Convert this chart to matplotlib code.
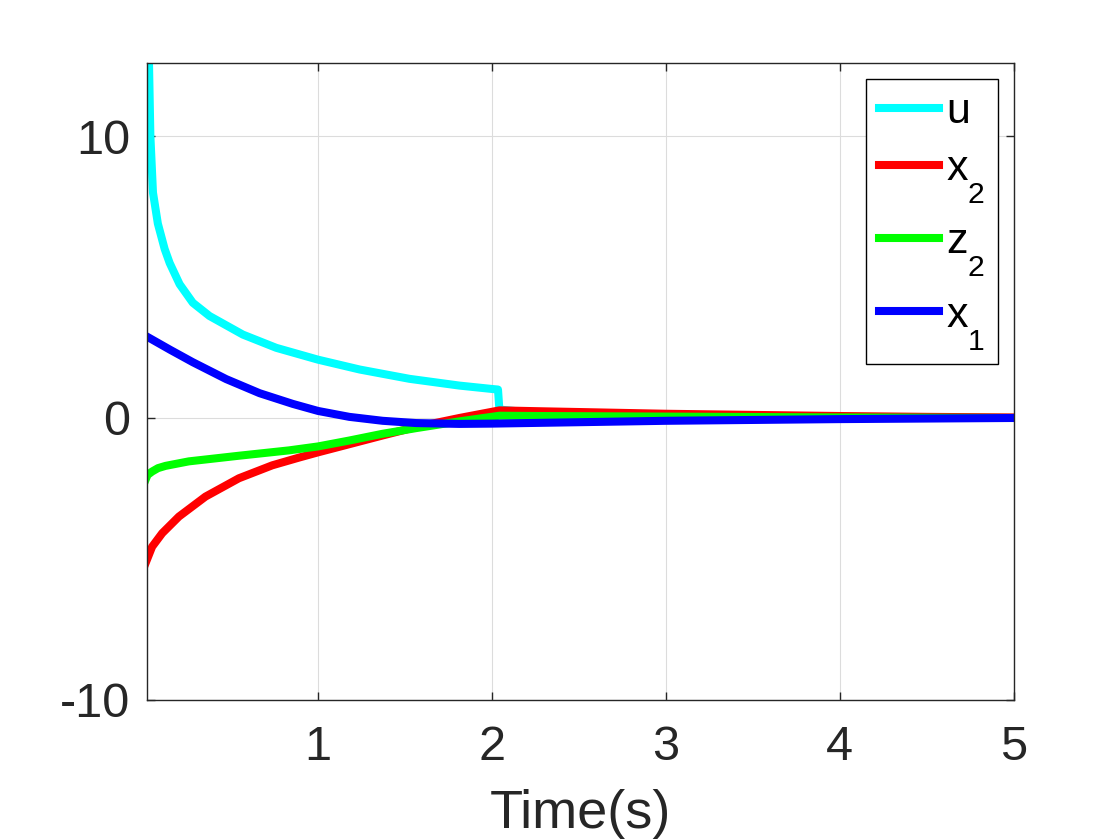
"""Closed-loop response: control input u and states x1, x2, z2 over 5 s."""
import matplotlib
matplotlib.use("Agg")
import matplotlib.pyplot as plt
from matplotlib import _mathtext

# values
t_u = [0.015, 0.022, 0.028, 0.036, 0.051, 0.079, 0.118, 0.147, 0.204, 0.28,
       0.376, 0.568, 0.76, 1.0, 1.24, 1.526, 1.813, 2.0, 2.035, 2.043,
       2.3, 2.8, 3.5, 4.2, 5.0]
u = [18.0, 14.5, 12.63, 10.02, 8.0, 6.9, 6.0, 5.5, 4.75, 4.09,
     3.62, 2.96, 2.49, 2.07, 1.72, 1.39, 1.15, 1.03, 1.01, 0.3,
     0.15, 0.07, 0.03, 0.01, 0.0]

t_x2 = [0.008, 0.046, 0.104, 0.2, 0.353, 0.545, 0.737, 0.894, 1.0, 1.18,
        1.372, 1.564, 1.813, 2.043, 2.27, 3.0, 3.5, 4.0, 4.5, 5.0]
x2 = [-5.16, -4.57, -4.09, -3.5, -2.79, -2.14, -1.68, -1.40, -1.22, -0.93,
      -0.62, -0.32, 0.0, 0.27, 0.24, 0.15, 0.11, 0.07, 0.04, 0.02]

t_z2 = [0.008, 0.02, 0.046, 0.08, 0.123, 0.257, 0.545, 0.833, 1.0, 1.18,
        1.372, 1.564, 1.813, 2.043, 2.27, 3.0, 4.0, 5.0]
z2 = [-2.2, -2.02, -1.9, -1.78, -1.7, -1.54, -1.34, -1.15, -1.01, -0.80,
      -0.56, -0.36, -0.12, 0.08, 0.07, 0.05, 0.02, 0.0]

t_x1 = [0.013, 0.15, 0.28, 0.472, 0.664, 0.855, 1.0, 1.18, 1.372, 1.564,
        1.813, 2.0, 2.3, 3.0, 3.5, 4.0, 5.0]
x1 = [2.9, 2.42, 1.98, 1.38, 0.88, 0.5, 0.25, 0.04, -0.1, -0.18,
      -0.21, -0.2, -0.17, -0.1, -0.07, -0.04, 0.0]

x_ticks = [1, 2, 3, 4, 5]
y_ticks = [-10, 0, 10]

TXT = "#262626"

plt.rcParams["font.family"] = ["Liberation Sans", "DejaVu Sans"]
plt.rcParams["mathtext.fontset"] = "custom"
plt.rcParams["mathtext.rm"] = "Liberation Sans"
plt.rcParams["mathtext.it"] = "Liberation Sans"
plt.rcParams["mathtext.default"] = "regular"
plt.rcParams["axes.unicode_minus"] = False


# MATLAB's tex subscripts sit lower than matplotlib's default
class _LowSub(_mathtext.FontConstantsBase):
    sub1 = 1.0


try:
    _mathtext._font_constant_mapping["Liberation Sans"] = _LowSub
except AttributeError:
    pass


def main() -> None:
    fig = plt.figure(figsize=(11.2, 8.4), dpi=100)
    ax = fig.add_axes([0.131, 0.167, 0.774, 0.758])

    lw = 5.8
    ax.plot(t_u, u, color="#00ffff", lw=lw, label="u")
    ax.plot(t_x2, x2, color="#ff0000", lw=lw, label=r"x$_2$")
    ax.plot(t_z2, z2, color="#00ff00", lw=lw, label=r"z$_2$")
    ax.plot(t_x1, x1, color="#0000ff", lw=lw, label=r"x$_1$")

    ax.set_xlim(0.015, 5)
    ax.set_ylim(-10, 12.6)
    ax.set_xticks(x_ticks)
    ax.set_yticks(y_ticks)
    ax.grid(True, color="#dcdcdc", lw=0.8)
    ax.set_axisbelow(True)

    for s in ax.spines.values():
        s.set_color(TXT)
        s.set_linewidth(1.0)
    ax.tick_params(direction="in", length=6, width=1.0, color=TXT,
                   top=True, right=True, labelsize=35, labelcolor=TXT)
    ax.tick_params(axis="x", pad=18)
    ax.tick_params(axis="y", pad=12)

    ax.set_xlabel("Time(s)", fontsize=39, color=TXT, labelpad=14)

    leg = ax.legend(loc="upper right", bbox_to_anchor=(0.982, 0.975),
                    fontsize=31, frameon=True, fancybox=False, framealpha=1,
                    edgecolor="#000000", handlelength=1.4, handletextpad=0.15,
                    borderpad=0.3, labelspacing=0.4, borderaxespad=0)
    leg.get_frame().set_linewidth(1.0)

    fig.savefig("out.png", dpi=100)
    plt.close(fig)


if __name__ == "__main__":
    main()
